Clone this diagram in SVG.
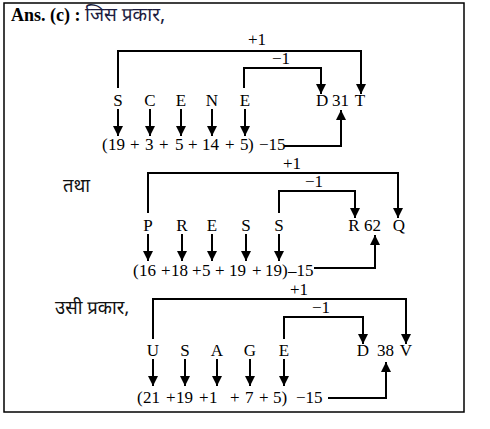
<svg xmlns="http://www.w3.org/2000/svg" width="490" height="429" viewBox="0 0 490 429">
<style>
  .t { font-family: "Liberation Serif", "Times New Roman", serif; font-size: 17px; fill: #000; }
  .b { font-weight: bold; font-size: 18px; }
  .h { font-family: "Noto Sans Devanagari", "Lohit Devanagari", "Mangal", "Noto Sans", sans-serif; font-size: 18.5px; fill: #111; }
  .ht { font-size: 19px; fill: #1c1c40; }
  .c { fill: none; stroke: #000; stroke-width: 2; }
</style>
<defs>
  <marker id="ah" markerUnits="userSpaceOnUse" markerWidth="11" markerHeight="11" refX="10" refY="5" orient="auto">
    <path d="M0,0 L10,5 L0,10 z" fill="#000"/>
  </marker>
</defs>
<rect x="4" y="3" width="460" height="409" fill="#fff" stroke="#000" stroke-width="1.5"/>

<g id="title">
  <text class="t b" x="11" y="21">Ans. (c) :</text>
  <text class="h ht" x="85" y="21">जिस प्रकार,</text>
</g>

<!-- Section 1 -->
<g id="scene-letters" class="t" text-anchor="middle">
  <text x="118" y="106">S</text>
  <text x="150" y="106">C</text>
  <text x="181" y="106">E</text>
  <text x="212" y="106">N</text>
  <text x="245" y="106">E</text>
</g>
<g id="scene-result" class="t">
  <text x="316" y="106">D</text>
  <text x="332" y="106">31</text>
  <text x="360" y="106" text-anchor="middle">T</text>
</g>
<g id="scene-sum" class="t">
  <text y="150"><tspan x="102">(</tspan><tspan x="108">19</tspan><tspan x="130">+</tspan><tspan x="145">3</tspan><tspan x="159">+</tspan><tspan x="175">5</tspan><tspan x="188">+</tspan><tspan x="202">14</tspan><tspan x="225">+</tspan><tspan x="240">5</tspan><tspan x="248">)</tspan><tspan x="259">−15</tspan></text>
</g>
<g id="scene-labels" class="t">
  <text x="248" y="45">+1</text>
  <text x="272" y="64">−1</text>
</g>

<!-- Section 2 -->
<g id="tatha">
  <text class="h" x="63" y="192">तथा</text>
</g>
<g id="press-letters" class="t" text-anchor="middle">
  <text x="148" y="231">P</text>
  <text x="182" y="231">R</text>
  <text x="212" y="231">E</text>
  <text x="246" y="231">S</text>
  <text x="279" y="231">S</text>
</g>
<g id="press-result" class="t">
  <text x="354" y="231" text-anchor="middle">R</text>
  <text x="364" y="231">62</text>
  <text x="399" y="231" text-anchor="middle">Q</text>
</g>
<g id="press-sum" class="t">
  <text y="276"><tspan x="133">(</tspan><tspan x="139">16</tspan><tspan x="161">+</tspan><tspan x="171">18</tspan><tspan x="192">+</tspan><tspan x="202">5</tspan><tspan x="215">+</tspan><tspan x="229">19</tspan><tspan x="252">+</tspan><tspan x="265">19</tspan><tspan x="282">)</tspan><tspan x="288">–15</tspan></text>
</g>
<g id="press-labels" class="t">
  <text x="283" y="169">+1</text>
  <text x="305" y="187">−1</text>
</g>

<!-- Section 3 -->
<g id="usi">
  <text class="h" x="55" y="314">उसी प्रकार,</text>
</g>
<g id="usage-letters" class="t" text-anchor="middle">
  <text x="153" y="356">U</text>
  <text x="185" y="356">S</text>
  <text x="217" y="356">A</text>
  <text x="250" y="356">G</text>
  <text x="284" y="356">E</text>
</g>
<g id="usage-result" class="t">
  <text x="363" y="356" text-anchor="middle">D</text>
  <text x="377" y="356">38</text>
  <text x="406" y="356" text-anchor="middle">V</text>
</g>
<g id="usage-sum" class="t">
  <text y="403"><tspan x="137">(</tspan><tspan x="143">21</tspan><tspan x="166">+</tspan><tspan x="176">19</tspan><tspan x="199">+</tspan><tspan x="209">1</tspan><tspan x="230">+</tspan><tspan x="245">7</tspan><tspan x="259">+</tspan><tspan x="273">5</tspan><tspan x="281.5">)</tspan><tspan x="296">−15</tspan></text>
</g>
<g id="usage-labels" class="t">
  <text x="290" y="295">+1</text>
  <text x="312" y="313">−1</text>
</g>

<g id="connectors" class="c">
  <!-- section 1 -->
  <path d="M118,88 V51 H361 V94" marker-end="url(#ah)"/>
  <path d="M244,88 V68 H321 V94" marker-end="url(#ah)"/>
  <path d="M118,109 V136" marker-end="url(#ah)"/>
  <path d="M150,109 V136" marker-end="url(#ah)"/>
  <path d="M181,109 V136" marker-end="url(#ah)"/>
  <path d="M212,109 V136" marker-end="url(#ah)"/>
  <path d="M245,109 V136" marker-end="url(#ah)"/>
  <path d="M284,146 H341 V110" marker-end="url(#ah)"/>
  <!-- section 2 -->
  <path d="M148,213 V173 H398 V218" marker-end="url(#ah)"/>
  <path d="M279,213 V191 H355 V218" marker-end="url(#ah)"/>
  <path d="M148,234 V261" marker-end="url(#ah)"/>
  <path d="M182,234 V261" marker-end="url(#ah)"/>
  <path d="M212,234 V261" marker-end="url(#ah)"/>
  <path d="M246,234 V261" marker-end="url(#ah)"/>
  <path d="M279,234 V261" marker-end="url(#ah)"/>
  <path d="M314,268 H375 V235" marker-end="url(#ah)"/>
  <!-- section 3 -->
  <path d="M153,339 V299 H406 V344" marker-end="url(#ah)"/>
  <path d="M284,339 V317 H363 V344" marker-end="url(#ah)"/>
  <path d="M153,359 V386" marker-end="url(#ah)"/>
  <path d="M185,359 V386" marker-end="url(#ah)"/>
  <path d="M217,359 V386" marker-end="url(#ah)"/>
  <path d="M250,359 V386" marker-end="url(#ah)"/>
  <path d="M284,359 V386" marker-end="url(#ah)"/>
  <path d="M328,398 H386 V362" marker-end="url(#ah)"/>
</g>
</svg>
